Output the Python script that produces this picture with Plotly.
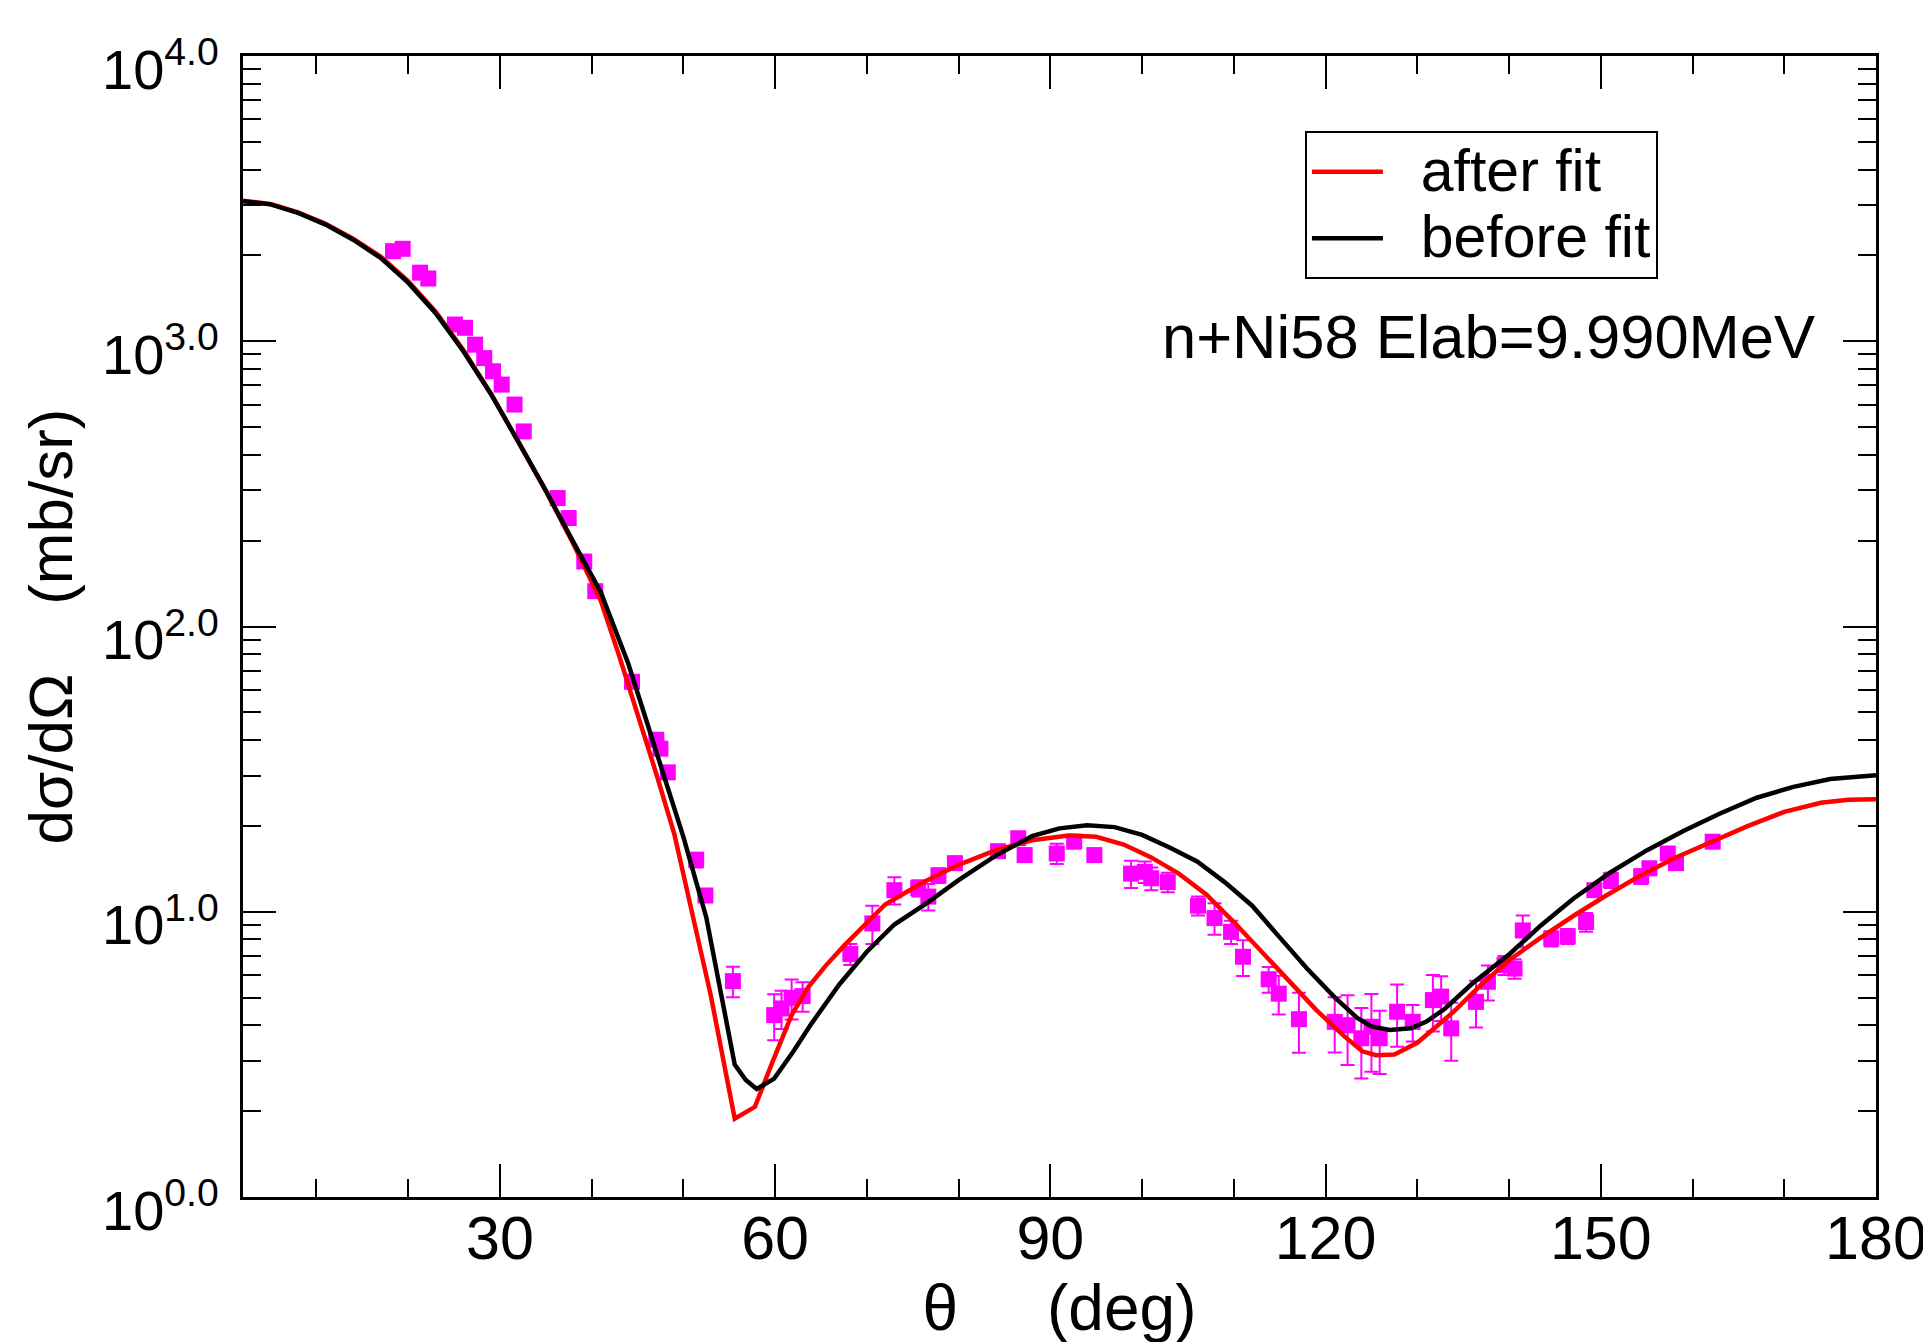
import plotly.graph_objects as go

# ---------------- data ----------------
# after fit (red)
after_deg = [2, 5, 8, 11, 14, 17, 20, 23, 26, 29, 32, 35, 38, 41, 43, 45, 47, 49, 51, 53, 55.6,
             57.8, 59.6, 61.8, 63.6, 65.5, 67.5, 70, 72, 76, 80, 84, 88, 92, 95, 98, 101, 104, 107,
             110, 113, 116, 119, 122, 124, 125.5, 127.5, 130, 134, 137, 140, 143.5, 147, 150.5,
             154, 158, 162, 166, 170, 174, 177, 180]
after_val = [3110, 3030, 2830, 2580, 2290, 1980, 1625, 1270, 933, 658, 445, 299, 195, 123, 79, 50,
             30.8, 18.8, 9.7, 5.07, 1.88,
             2.07, 2.91, 4.34, 5.43, 6.46, 7.59, 9.12, 10.6, 12.6, 14.6, 16.4, 17.8, 18.5, 18.3,
             17.2, 15.5, 13.6, 11.5,
             9.2, 7.24, 5.75, 4.52, 3.67, 3.24, 3.14, 3.16, 3.47, 4.47, 5.56, 6.76, 8.13, 9.66,
             11.35, 13.2, 15.4, 17.6, 19.95, 22.4, 24.1, 24.7, 24.8]

# before fit (black)
before_deg = [2, 5, 8, 11, 14, 17, 20, 23, 26, 29, 32, 35, 38, 41, 44, 47, 50, 52.5, 54.5, 55.6,
              56.8, 58, 59.9, 62, 64, 67, 70, 73, 76.5, 80, 84, 88, 91, 94, 97, 100, 103, 106,
              109, 112, 115, 118, 121, 123.5, 125, 127, 129.3, 131, 133, 136, 140, 143.5, 147,
              151, 155, 159, 163, 167, 171, 175, 180]
before_val = [3100, 3020, 2820, 2565, 2270, 1960, 1605, 1255, 925, 655, 445, 300, 198, 132, 74,
              36.7, 18.3, 9.55, 4.46, 2.91,
              2.57, 2.39, 2.60, 3.24, 4.07, 5.56, 7.24, 9.02, 10.7, 12.9, 15.7, 18.4, 19.6, 20.1,
              19.8, 18.6, 16.8, 15.0,
              12.7, 10.5, 8.13, 6.31, 5.01, 4.23, 3.96, 3.85, 3.90, 4.12, 4.57, 5.60, 7.08, 8.97,
              11.1, 13.7, 16.4, 19.2, 22.1, 25.1, 27.4, 29.2, 30.1]

# experimental data (magenta squares)
exp_deg = [18.35, 19.4, 21.3, 22.2, 25.1, 26.2, 27.3, 28.3, 29.25, 30.2, 31.6, 32.6, 36.3, 37.5,
           39.2, 40.4, 44.4, 47.05, 47.5, 48.3, 51.4, 52.4, 55.4, 59.9, 60.7, 61.8, 63.0, 68.2,
           70.6, 73.0, 75.6, 76.7, 77.8, 79.6, 84.3, 86.5, 87.2, 90.7, 92.6, 94.8, 98.8, 100.3,
           101.0, 102.8, 106.1, 107.9, 109.7, 111.0, 113.8, 114.9, 117.1, 121.0, 122.4, 123.9,
           125.0, 125.9, 127.8, 129.5, 131.7, 132.6, 133.7, 136.4, 137.7, 139.5, 140.6, 141.5,
           144.6, 146.4, 148.4, 149.3, 151.1, 154.4, 155.3, 157.3, 158.2, 162.2]
exp_val = [2070, 2110, 1740, 1660, 1145, 1115, 973, 873, 785, 705, 600, 483, 282, 240,
           169, 133, 64.0, 40.1, 37.3, 30.8, 15.2, 11.4, 5.71, 4.34, 4.58, 4.99, 5.06, 7.11,
           9.1, 11.9, 12.1, 11.3, 13.4, 14.8, 16.3, 18.1, 15.8, 16.0, 17.6, 15.8, 13.6, 13.8,
           13.1, 12.7, 10.5, 9.5, 8.5, 6.95, 5.8, 5.16, 4.2, 4.11, 4.0, 3.6,
           3.95, 3.6, 4.46, 4.11, 4.9, 5.04, 3.9, 4.83, 5.68, 6.5, 6.32, 8.6,
           8.05, 8.2, 9.2, 11.9, 12.9, 13.3, 14.2, 16.0, 14.8, 17.6]
exp_err = [40, 40, 35, 35, 25, 25, 20, 18, 16, 14, 12, 10, 6, 5,
           4, 3, 1.5, 1.0, 1.0, 0.8, 0.9, 0.5, 0.7, 0.8, 0.7, 0.8, 0.6, 0.6,
           1.4, 1.3, 0.8, 1.2, 0.8, 0.8, 0.8, 0.8, 0.8, 1.3, 0.8, 0.8, 1.5, 1.2,
           1.2, 1.0, 0.8, 1.2, 0.8, 1.0, 0.6, 0.8, 1.0, 0.9, 1.1, 1.0,
           1.2, 0.9, 1.1, 0.6, 1.1, 0.9, 0.9, 0.9, 0.8, 0.5, 0.5, 1.1,
           0.5, 0.5, 0.7, 0.6, 0.8, 0.8, 0.6, 0.6, 0.6, 0.6]

x_major = [30, 60, 90, 120, 150, 180]
x_minor = [10, 20, 40, 50, 70, 80, 100, 110, 130, 140, 160, 170]
y_major = [1, 10, 100, 1000, 10000]
y_labels = ["10<sup>0.0</sup>", "10<sup>1.0</sup>", "10<sup>2.0</sup>",
            "10<sup>3.0</sup>", "10<sup>4.0</sup>"]
y_minor = [m * 10 ** k for k in range(4) for m in range(2, 10)]

FONT = "Liberation Sans, Arial, Helvetica, sans-serif"
NB = "\u00a0"


def legend_label(txt):
    return '<span style="font-size:59px">' + NB * 2 + txt + "</span>"


fig = go.Figure()

fig.add_trace(go.Scatter(
    x=exp_deg, y=exp_val, mode="markers", showlegend=False,
    marker=dict(symbol="square", size=16, color="#ff00ff"),
    error_y=dict(type="data", array=exp_err, visible=True, color="#ff00ff",
                 thickness=2, width=7),
))
fig.add_trace(go.Scatter(
    x=after_deg, y=after_val, mode="lines", name=legend_label("after fit"),
    line=dict(color="#ff0000", width=4.5),
))
fig.add_trace(go.Scatter(
    x=before_deg, y=before_val, mode="lines", name=legend_label("before fit"),
    line=dict(color="#000000", width=4.5),
))

fig.update_layout(
    width=1931, height=1342,
    margin=dict(l=235, r=63, t=48, b=153),
    paper_bgcolor="white", plot_bgcolor="white",
    font=dict(family=FONT, color="black", size=56),
    showlegend=True,
    legend=dict(
        x=0.6503, y=0.934, xanchor="left", yanchor="top",
        bordercolor="black", borderwidth=2, bgcolor="white",
        font=dict(size=49, family=FONT), traceorder="normal",
        itemwidth=71, tracegroupgap=0,
    ),
    annotations=[dict(
        text="n+Ni58 Elab=9.990MeV", xref="paper", yref="paper",
        x=0.9639, y=0.7545, xanchor="right", yanchor="middle",
        showarrow=False, font=dict(size=61.5, family=FONT, color="black"),
    )],
)

fig.update_xaxes(
    range=[2, 180], showgrid=False, zeroline=False,
    showline=True, linewidth=3, linecolor="black", mirror="ticks",
    tickmode="array", tickvals=x_major, ticks="inside", ticklen=33, tickwidth=2,
    tickcolor="black", ticklabelstandoff=-14,
    tickfont=dict(size=61, family=FONT),
    minor=dict(tickmode="array", tickvals=x_minor, ticks="inside", ticklen=18,
               tickwidth=2, tickcolor="black", showgrid=False),
    title=dict(text="θ" + NB * 5 + "(deg)",
               font=dict(size=64, family=FONT), standoff=10),
)
fig.update_yaxes(
    type="log", range=[-0.0002, 4.0002], showgrid=False, zeroline=False,
    showline=True, linewidth=3, linecolor="black", mirror="ticks",
    tickmode="array", tickvals=y_major, ticktext=y_labels,
    ticks="inside", ticklen=33, tickwidth=2, tickcolor="black",
    ticklabelstandoff=10, ticklabelshift=13,
    tickfont=dict(size=56, family=FONT),
    minor=dict(tickmode="array", tickvals=y_minor, ticks="inside", ticklen=18,
               tickwidth=2, tickcolor="black", showgrid=False),
    title=dict(text="\u2002dσ/dΩ" + NB * 4 + "(mb/sr)",
               font=dict(size=62, family=FONT), standoff=10),
)

fig.write_html("out.html")
